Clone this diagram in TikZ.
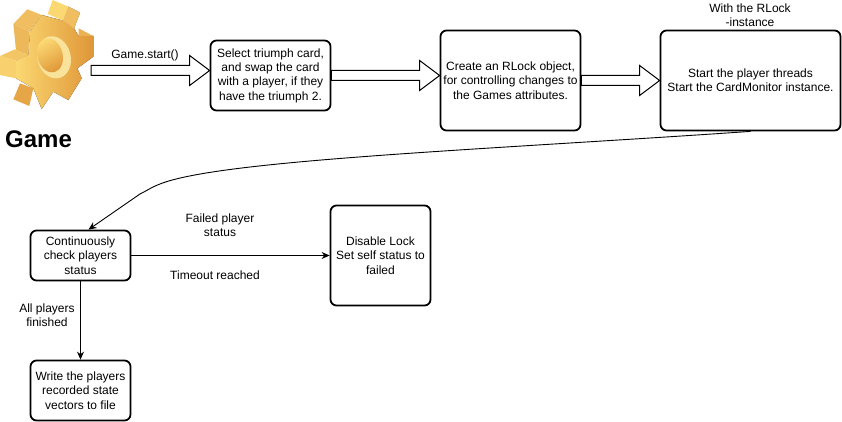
\documentclass[tikz,border=0pt]{standalone}
\usepackage{fontspec}
\setmainfont{Liberation Sans}
\usetikzlibrary{arrows.meta,calc}
\definecolor{gearlight}{HTML}{FBD872}
\definecolor{geardark}{HTML}{DF9638}
\definecolor{gearside}{HTML}{F0BE60}
\definecolor{gearpale}{HTML}{F9E29A}
\tikzset{
  stepbox/.style={draw,line width=1.8pt,rounded corners=6pt,fill=white,align=center,inner sep=0pt,font=\fontsize{12}{14.4}\selectfont},
  lbl/.style={align=center,inner sep=0pt,font=\fontsize{12}{14.4}\selectfont},
  blockarrow/.style={draw,line width=1pt,fill=white,line join=miter},
  link/.style={->,line width=0.9pt}
}
% hollow arrow between two points on one level
\newcommand{\hollow}[2]{
  \path[blockarrow] let \p1=(#1),\p2=(#2) in
    (\x1,\y1+5pt)--(\x2-20pt,\y1+5pt)--(\x2-20pt,\y1+15pt)--(\x2,\y1)--(\x2-20pt,\y1-15pt)--(\x2-20pt,\y1-5pt)--(\x1,\y1-5pt)--cycle;
}
\begin{document}
\begin{tikzpicture}[>={Stealth[length=8pt,width=7pt]},x=1pt,y=-1pt]
\useasboundingbox (0,0) rectangle (842,422);
% gear
\begin{scope}[x=0.3333pt,y=-0.3333pt]
% front face
\fill[left color=gearlight,right color=geardark] (125,45)--(190,62)--(205,20)--(240,38)--(222,85)--(236,108)--(280,108)--(280,170)--(232,205)--(245,235)--(205,300)--(160,275)--(125,327)--(100,265)--(48,235)--(48,182)--(85,165)--(90,95)--cycle;
% top tooth
\fill[gearlight] (158,0)--(205,20)--(190,62)--(143,42)--cycle;
\fill[gearside] (205,20)--(240,38)--(222,85)--(190,62)--cycle;
% right tooth
\fill[gearside!70!geardark] (236,85)--(280,108)--(236,108)--cycle;
% left teeth
\fill[gearside] (40,72)--(82,28)--(125,45)--(88,95)--cycle;
\fill[gearside!85!geardark] (40,72)--(88,95)--(85,165)--(48,150)--cycle;
\fill[gearside!70!gearlight] (0,168)--(45,148)--(85,165)--(48,182)--cycle;
\fill[gearlight!70!gearside] (0,168)--(48,182)--(48,235)--(0,225)--cycle;
% bottom tooth
\fill[geardark!60!gearside] (40,298)--(60,250)--(100,265)--(88,318)--cycle;
% hole
\fill[gearpale,rotate around={15:(162,172)}] (162,172) ellipse (50 and 64);
\shade[top color=gearlight,bottom color=geardark,shading angle=30,rotate around={15:(150,166)}] (150,166) ellipse (38 and 52);
\end{scope}
\node[inner sep=0pt,font=\bfseries\fontsize{24}{28}\selectfont] (title) at (38.5,139) {Game};
% free start of the first arrow
\coordinate (begin) at (91,70.5);
% upper row
\node[stepbox,minimum width=120pt,minimum height=70pt] (triumph) at (270.5,75.5) {Select triumph card,\\and swap the card\\with a player, if they\\have the triumph 2.};
\node[stepbox,minimum width=140pt,minimum height=100pt] (rlock) at (510.5,80.5) {Create an RLock object,\\for controlling changes to\\the Games attributes.};
\node[stepbox,minimum width=180pt,minimum height=100pt] (threads) at (750.5,80.5) {Start the player threads\\Start the CardMonitor instance.};
% lower row
\node[stepbox,minimum width=100pt,minimum height=50pt] (check) at (80.5,255.5) {Continuously\\check players\\status};
\node[stepbox,minimum width=100pt,minimum height=100pt] (lock) at (380.5,255.5) {Disable Lock\\Set self status to\\failed};
\node[stepbox,minimum width=100pt,minimum height=60pt] (write) at (80.5,390.5) {Write the players\\recorded state\\vectors to file};
% block arrows
\hollow{begin}{triumph.west}
\hollow{triumph.east}{rlock.west}
\hollow{rlock.east}{threads.west}
% plain arrows
\draw[link] (threads.south) .. controls (480,150) and (220,160) .. (160,184) .. controls (152,187) and (148,190) .. (140,194) -- ($(check.north)+(8,0)$);
\draw[link] (check) -- (lock);
\draw[link] (check) -- (write);
% labels
\node[lbl] (startlbl) at (145,55) {Game.start()};
\node[lbl] (withlbl) at (750,15) {With the RLock\\-instance};
\node[lbl] (failedlbl) at (220,225.5) {Failed player\\status};
\node[lbl] (timeoutlbl) at (215,275) {Timeout reached};
\node[lbl] (finishedlbl) at (47,315.5) {All players\\finished};
\end{tikzpicture}
\end{document}
